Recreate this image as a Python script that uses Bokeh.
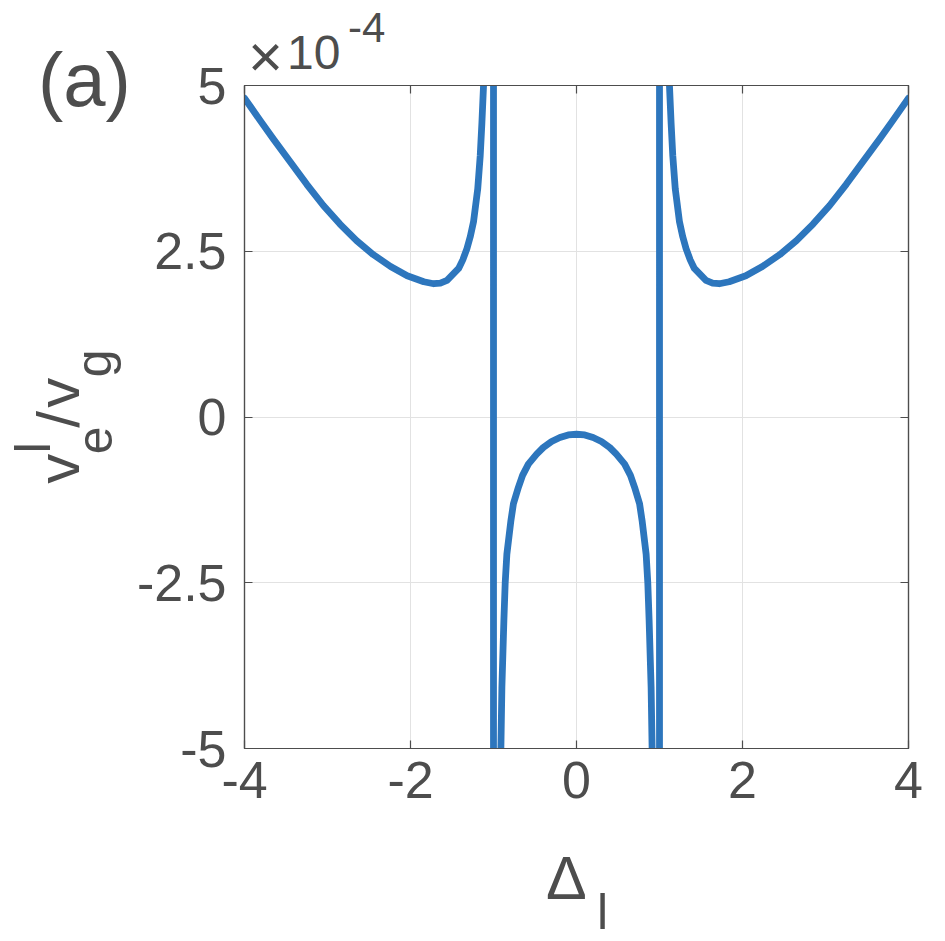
from bokeh.plotting import figure
from bokeh.models import Range1d, FixedTicker, LinearAxis, Div, GridBox
from bokeh.embed import file_html
from bokeh.resources import INLINE

# ---------------- data ----------------
# detuning Delta_l
delta_l = [-4.0, -3.81, -3.65, -3.45, -3.25, -3.05, -2.85, -2.65, -2.45, -2.24, -2.04,
           -1.84, -1.72, -1.64, -1.56, -1.42, -1.37, -1.32, -1.28, -1.24, -1.19, -1.16,
           -1.14, -1.12,
           -1.0, -1.0,
           -0.911, -0.899, -0.875, -0.859, -0.839, -0.79, -0.76, -0.70, -0.65, -0.58,
           -0.48, -0.40, -0.30, -0.20, -0.10, 0.0, 0.10, 0.20, 0.30, 0.40, 0.48, 0.58,
           0.65, 0.70, 0.76, 0.79, 0.839, 0.859, 0.875, 0.899, 0.911,
           1.0, 1.0,
           1.12, 1.14, 1.16, 1.19, 1.24, 1.28, 1.32, 1.37, 1.42, 1.56, 1.64, 1.72, 1.84,
           2.04, 2.24, 2.45, 2.65, 2.85, 3.05, 3.25, 3.45, 3.65, 3.81, 4.0]
# v_e^l / v_g in units of 1e-4 (values beyond +-5 mark the divergence at |Delta_l| = 1)
v_ratio_e4 = [4.81, 4.47, 4.19, 3.85, 3.51, 3.19, 2.91, 2.66, 2.45, 2.27, 2.13,
              2.04, 2.01, 2.02, 2.06, 2.24, 2.37, 2.54, 2.72, 2.95, 3.44, 3.94,
              4.43, 5.00,
              40.0, -40.0,
              -5.00, -4.08, -3.07, -2.50, -2.07, -1.56, -1.31, -1.06, -0.88, -0.71,
              -0.56, -0.46, -0.37, -0.31, -0.27, -0.26, -0.27, -0.31, -0.37, -0.46, -0.56, -0.71,
              -0.88, -1.06, -1.31, -1.56, -2.07, -2.50, -3.07, -4.08, -5.00,
              -40.0, 40.0,
              5.00, 4.43, 3.94, 3.44, 2.95, 2.72, 2.54, 2.37, 2.24, 2.06, 2.02, 2.01, 2.04,
              2.13, 2.27, 2.45, 2.66, 2.91, 3.19, 3.51, 3.85, 4.19, 4.47, 4.81]

x_ticks = [-4, -2, 0, 2, 4]
x_tick_labels = ["-4", "-2", "0", "2", "4"]
y_ticks = [-5, -2.5, 0, 2.5, 5]
y_tick_labels = ["-5", "-2.5", "0", "2.5", "5"]

# ---------------- styling ----------------
FONT = "Liberation Sans"
TXT = "#4d4d4d"
AX = "#4d4d4d"
BLUE = "#2d76bd"

W, H = 936, 931
FL, FT, FW, FH = 244, 85, 664, 663  # frame in figure px

p = figure(width=W, height=H, x_range=Range1d(-4, 4), y_range=Range1d(-5, 5),
           output_backend="svg", toolbar_location=None,
           min_border_left=FL, min_border_top=FT,
           min_border_right=W - FL - FW, min_border_bottom=H - FT - FH)
p.background_fill_color = "white"
p.border_fill_color = "white"
p.outline_line_color = AX
p.outline_line_width = 1.2

xt = FixedTicker(ticks=x_ticks)
yt = FixedTicker(ticks=y_ticks)

for ax in p.xaxis:
    ax.ticker = xt
    ax.major_label_overrides = {float(t): s for t, s in zip(x_ticks, x_tick_labels)}
for ax in p.yaxis:
    ax.ticker = yt
    ax.major_label_overrides = {float(t): s for t, s in zip(y_ticks, y_tick_labels)}

for ax in list(p.xaxis) + list(p.yaxis):
    ax.major_label_text_font = FONT
    ax.major_label_text_font_size = "52px"
    ax.major_label_text_color = TXT
    ax.axis_line_color = AX
    ax.axis_line_width = 1.2
    ax.major_tick_line_color = AX
    ax.major_tick_line_width = 1.2
    ax.major_tick_in = 8
    ax.major_tick_out = 0
    ax.minor_tick_line_color = None
p.xaxis.major_label_standoff = 13
p.yaxis.major_label_standoff = 18

for side, tk, ticks in (("above", xt, x_ticks), ("right", yt, y_ticks)):
    a = LinearAxis(ticker=tk, major_label_text_font_size="10px", major_label_standoff=0,
                   major_label_overrides={float(t): "" for t in ticks},
                   axis_line_color=AX, axis_line_width=1.2, major_tick_line_color=AX,
                   major_tick_line_width=1.2, major_tick_in=8, major_tick_out=0,
                   minor_tick_line_color=None)
    p.add_layout(a, side)

p.xgrid.ticker = xt
p.ygrid.ticker = yt
p.grid.grid_line_color = "#e2e2e2"
p.grid.grid_line_width = 1

p.line(delta_l, v_ratio_e4, line_color=BLUE, line_width=6.8, line_join="round", line_cap="round")

# ---------------- texts outside the frame: an HTML overlay ----------------
ASC = 0.8465  # baseline offset for line-height 1 (Liberation Sans metrics)
pieces = []


def txt(text, px, py, size, rot=False):
    """(px, py): start of the baseline, in figure pixels."""
    top = py - ASC * size
    style = (f"position:absolute;left:{px:.1f}px;top:{top:.1f}px;font-family:'{FONT}';"
             f"font-size:{size}px;line-height:1;color:{TXT};white-space:nowrap;margin:0;padding:0;")
    if rot:
        style += f"transform-origin:0px {ASC * size:.1f}px;transform:rotate(-90deg);"
    pieces.append(f'<span style="{style}">{text}</span>')


txt("(a)", 38, 106, 76)
txt("\u00d7", 248, 78, 60)
txt("10", 287, 70, 48)
txt("-4", 348, 43, 42)

# x label: Delta_l
txt("\u0394", 546, 900, 61)
txt("l", 597, 929, 50)

# y label: v_e^l / v_g (rotated)
txt("v", 80, 484, 60, True)
txt("l", 50, 453, 50, True)
txt("e", 112, 454, 50, True)
txt("/", 80, 428, 60, True)
txt("v", 80, 408, 60, True)
txt("g", 111, 377, 50, True)

overlay = Div(width=W, height=H,
              text=f'<div style="position:relative;width:{W}px;height:{H}px;">' + "".join(pieces) + "</div>",
              styles={"pointer-events": "none", "margin": "0", "padding": "0"})

layout = GridBox(children=[(p, 0, 0), (overlay, 0, 0)], spacing=0)

open("out.html", "w").write(file_html(layout, INLINE))
